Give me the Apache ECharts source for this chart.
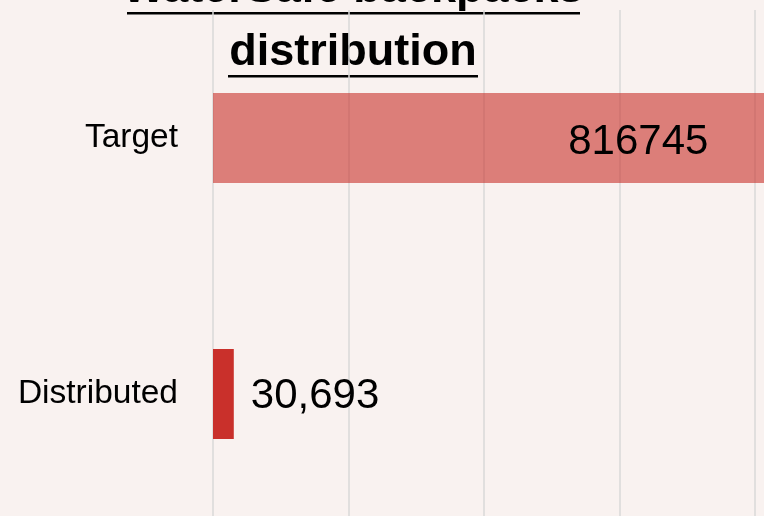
<!DOCTYPE html>
<html><head><meta charset="utf-8">
<script src="https://cdn.jsdelivr.net/npm/echarts@6/dist/echarts.min.js"></script>
<style>html,body{margin:0;padding:0;background:#f9f2f0;}#c{width:764px;height:516px;}</style>
</head><body><div id="c"></div>
<script>
const categories = ['Target', 'Distributed'];
const values = [816745, 30693];
const valueLabels = ['816745', '30,693'];
const titleLines = ['WaterSafe backpacks', 'distribution'];
const barColors = ['rgba(200,48,42,0.6)', '#c9302b'];

const chart = echarts.init(document.getElementById('c'));
const FONT = '"Liberation Sans", Arial, sans-serif';
chart.setOption({
  backgroundColor: '#f9f2f0',
  animation: false,
  grid: { left: 213, top: 10, width: 677.5, height: 512, containLabel: false, outerBoundsMode: 'none' },
  xAxis: {
    type: 'value', min: 0, max: 1000000, interval: 200000,
    axisLabel: { show: false }, axisLine: { show: false }, axisTick: { show: false },
    splitLine: { show: true, lineStyle: { color: '#d9d9d9', width: 1.5 } }
  },
  yAxis: {
    type: 'category', inverse: true, data: categories,
    axisLine: { show: false }, axisTick: { show: false },
    axisLabel: { color: '#000', fontSize: 33.5, fontFamily: FONT, margin: 35 }
  },
  series: [{
    type: 'bar', barWidth: 90,
    data: values.map((v, i) => ({
      value: v,
      itemStyle: { color: barColors[i] },
      label: i === 0
        ? { show: true, position: 'insideRight', distance: 58, offset: [0, 4], formatter: valueLabels[i], color: '#000', fontSize: 42, fontFamily: FONT }
        : { show: true, position: 'right', distance: 17, offset: [0, 2], formatter: valueLabels[i], color: '#000', fontSize: 42, fontFamily: FONT }
    }))
  }],
  graphic: [
    { type: 'text', x: 353, y: -10, style: { text: titleLines[0], font: 'bold 45px ' + FONT, fill: '#000', textAlign: 'center', textVerticalAlign: 'middle' } },
    { type: 'text', x: 353, y: 53, style: { text: titleLines[1], font: 'bold 45px ' + FONT, fill: '#000', textAlign: 'center', textVerticalAlign: 'middle' } },
    { type: 'rect', shape: { x: 127, y: 12, width: 453, height: 2.5 }, style: { fill: '#000' } },
    { type: 'rect', shape: { x: 228, y: 75, width: 250, height: 2.5 }, style: { fill: '#000' } }
  ]
});
</script></body></html>
